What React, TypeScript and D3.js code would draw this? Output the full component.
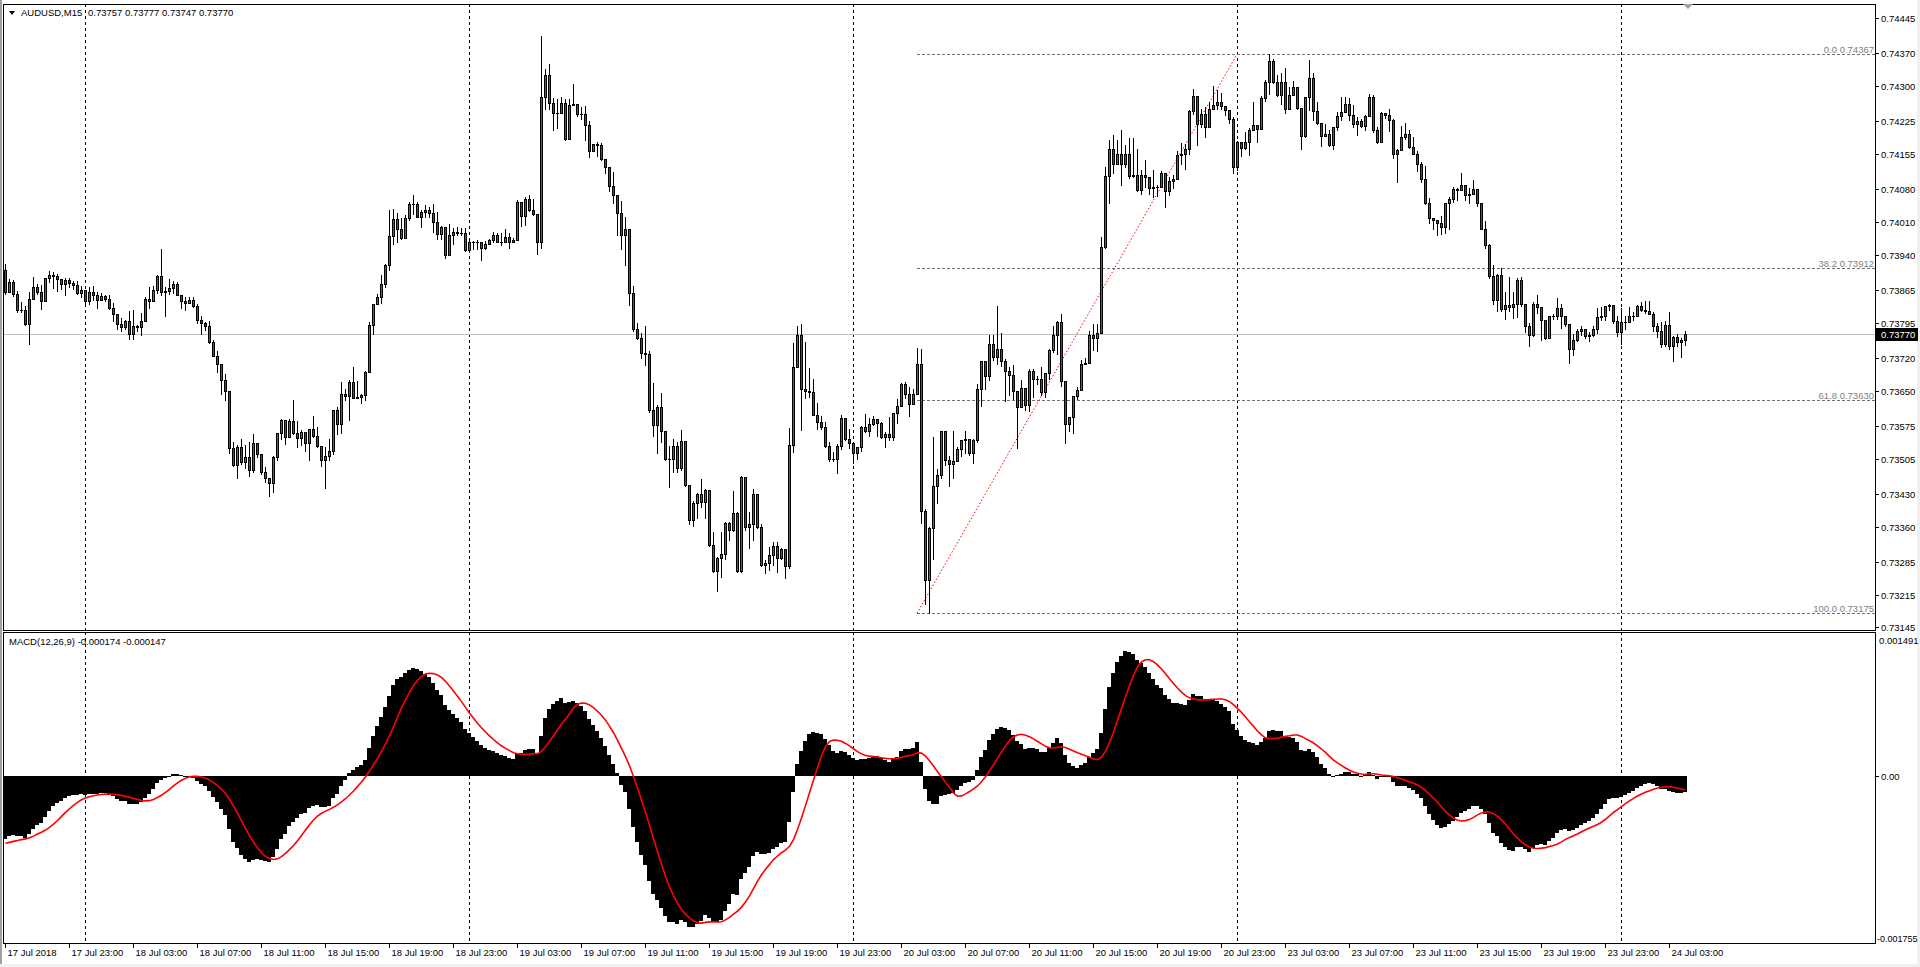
import React, { useMemo } from 'react';
import * as d3 from 'd3';

// ---------- DATA (prices in points: 73770 = 0.73770) ----------
const firstOpen = 73907;
const closePts = [
73860,73881,73856,73821,73821,73791,73846,73870,73860,73842,73890,73897,73894,73888,73878,73886,73880,73875,73858,73865,
73841,73861,73853,73844,73851,73846,73826,73814,73791,73785,73799,73771,73787,73785,73799,73846,73841,73865,73895,73860,
73863,73869,73878,73854,73841,73837,73844,73830,73801,73794,73787,73753,73723,73707,73673,73649,73527,73492,73529,73497,
73508,73481,73538,73514,73476,73463,73453,73509,73560,73588,73552,73585,73560,73549,73562,73538,73568,73554,73531,73501,
73511,73522,73609,73578,73642,73639,73668,73634,73637,73641,73689,73789,73834,73849,73878,73917,73979,74016,73995,73976,
74018,74048,74048,74021,74030,74034,74029,74009,73983,73999,73940,73981,73989,73987,73987,73950,73967,73966,73966,73955,
73962,73971,73981,73967,73966,73977,73966,73972,74052,74022,74058,74035,74027,73966,74275,74323,74264,74242,74242,74264,
74187,74259,74262,74240,74240,74217,74161,74175,74173,74143,74127,74086,74066,74029,73982,73995,73857,73782,73762,73731,
73727,73608,73577,73615,73563,73504,73503,73532,73485,73542,73449,73374,73411,73429,73412,73439,73321,73266,73293,73302,
73368,73352,73388,73265,73465,73360,73365,73429,73360,73279,73283,73299,73319,73293,73313,73276,73534,73701,73768,73654,
73650,73646,73597,73583,73573,73532,73504,73503,73532,73592,73547,73539,73517,73530,73572,73563,73578,73590,73581,73551,
73558,73551,73603,73618,73665,73643,73621,73643,73707,73393,73245,73358,73446,73471,73563,73501,73494,73499,73526,73544,
73547,73517,73544,73654,73712,73680,73749,73722,73739,73712,73692,73684,73648,73616,73655,73620,73692,73675,73675,73647,
73687,73737,73769,73796,73670,73579,73594,73638,73652,73707,73709,73769,73761,73773,73956,74108,74166,74132,74155,74134,
74154,74107,74109,74077,74110,74105,74081,74083,74083,74114,74076,74097,74102,74152,74154,74164,74246,74278,74219,74239,
74212,74251,74258,74265,74256,74248,74230,74127,74180,74167,74179,74206,74216,74207,74273,74307,74352,74308,74280,74307,
74250,74281,74297,74253,74193,74275,74317,74246,74221,74193,74197,74173,74211,74236,74244,74260,74237,74219,74224,74214,
74235,74276,74205,74179,74242,74237,74226,74155,74162,74191,74198,74169,74155,74134,74102,74049,74017,74014,74007,73999,
74049,74059,74079,74077,74089,74068,74069,74079,74049,73995,73960,73894,73844,73896,73823,73833,73828,73835,73886,73835,
73788,73769,73835,73828,73800,73763,73810,73810,73826,73808,73791,73739,73757,73778,73782,73766,73768,73782,73807,73810,
73830,73832,73798,73775,73796,73796,73808,73808,73830,73821,73820,73814,73787,73778,73749,73789,73744,73764,73754,73757,
73770
];
const highPts = [
73920,73888,73885,73863,73838,73831,73860,73892,73878,73874,73890,73904,73902,73899,73888,73890,73890,73883,73883,73873,
73846,73870,73872,73861,73858,73853,73854,73836,73814,73804,73801,73819,73821,73789,73815,73849,73870,73872,73897,73951,
73870,73887,73883,73881,73854,73850,73850,73850,73834,73809,73796,73799,73758,73735,73703,73686,73650,73540,73533,73547,
73533,73541,73558,73538,73514,73488,73461,73511,73560,73590,73588,73590,73629,73586,73565,73561,73568,73595,73573,73529,
73529,73547,73609,73615,73669,73654,73673,73701,73670,73643,73691,73796,73835,73856,73897,73920,74036,74038,74028,74018,
74024,74052,74066,74052,74036,74046,74041,74047,74030,74001,73999,74005,73997,73999,73997,73997,73974,73968,73970,73966,
73968,73974,73988,73985,73985,73995,73985,73976,74056,74052,74062,74068,74058,74021,74406,74336,74347,74273,74272,74276,
74272,74272,74303,74262,74254,74256,74224,74175,74179,74177,74142,74125,74117,74067,74054,74019,73991,73873,73794,73772,
73787,73735,73666,73619,73644,73560,73532,73546,73540,73565,73537,73445,73414,73431,73462,73441,73437,73349,73295,73349,
73370,73370,73436,73390,73467,73462,73390,73441,73429,73366,73289,73317,73328,73327,73315,73313,73571,73751,73788,73792,
73754,73699,73675,73623,73595,73583,73541,73518,73536,73598,73588,73567,73538,73530,73574,73599,73591,73595,73586,73584,
73562,73594,73603,73631,73666,73668,73658,73654,73741,73738,73398,73360,73551,73482,73564,73562,73510,73563,73530,73545,
73564,73545,73547,73663,73713,73711,73769,73769,73830,73773,73718,73700,73705,73645,73673,73654,73697,73697,73680,73700,
73687,73739,73787,73798,73814,73665,73594,73638,73658,73716,73720,73778,73791,73791,73978,74127,74185,74194,74184,74205,
74173,74189,74189,74164,74120,74141,74102,74121,74088,74118,74108,74105,74109,74161,74177,74175,74248,74292,74275,74251,
74255,74265,74300,74290,74285,74255,74249,74233,74182,74169,74201,74209,74265,74209,74278,74312,74367,74358,74322,74328,
74337,74297,74310,74297,74253,74276,74354,74328,74265,74221,74219,74205,74211,74244,74275,74276,74273,74258,74233,74228,
74237,74283,74280,74211,74244,74241,74251,74228,74166,74214,74221,74205,74191,74160,74137,74128,74061,74017,74009,74022,
74050,74063,74084,74082,74113,74089,74081,74098,74077,74047,74011,73963,73917,73899,73911,73860,73892,73860,73889,73892,
73834,73795,73839,73854,73828,73798,73810,73814,73847,73834,73808,73788,73771,73782,73787,73773,73775,73787,73825,73828,
73830,73834,73832,73808,73825,73808,73828,73818,73832,73839,73841,73842,73818,73793,73796,73798,73818,73766,73770,73761,
73777
];
const lowPts = [
73855,73860,73852,73817,73817,73789,73750,73851,73856,73824,73844,73881,73869,73863,73867,73854,73870,73867,73856,73849,
73836,73835,73844,73826,73845,73841,73824,73799,73782,73778,73782,73760,73760,73778,73769,73801,73826,73844,73858,73853,
73808,73856,73858,73853,73826,73821,73839,73829,73794,73770,73779,73752,73723,73689,73643,73629,73517,73490,73463,73494,
73485,73467,73476,73509,73472,73455,73425,73433,73501,73547,73536,73551,73558,73529,73533,73521,73502,73551,73529,73490,
73442,73501,73515,73558,73559,73629,73588,73634,73636,73623,73629,73693,73770,73836,73836,73870,73906,73963,73967,73974,
73979,74014,74027,74020,73998,74020,74021,73989,73974,73974,73933,73948,73962,73981,73981,73948,73962,73952,73952,73928,
73952,73962,73967,73966,73961,73967,73954,73970,73974,74001,74003,74033,74025,73942,73954,74251,74251,74205,74210,74242,
74185,74190,74258,74235,74230,74185,74149,74161,74151,74142,74114,74075,74049,73982,73952,73918,73833,73778,73759,73720,
73705,73605,73554,73516,73540,73502,73444,73477,73477,73481,73447,73365,73362,73378,73402,73378,73319,73264,73222,73252,
73291,73331,73350,73264,73264,73352,73315,73331,73357,73276,73262,73268,73277,73264,73291,73250,73272,73520,73701,73566,
73634,73637,73597,73569,73569,73530,73500,73499,73475,73526,73544,73528,73496,73503,73521,73562,73554,73576,73554,73549,
73530,73544,73545,73581,73617,73635,73596,73622,73647,73367,73195,73175,73291,73410,73463,73492,73446,73463,73501,73510,
73517,73512,73495,73540,73617,73653,73672,73716,73707,73702,73628,73640,73631,73527,73618,73608,73606,73636,73665,73640,
73636,73674,73732,73729,73659,73538,73564,73559,73631,73652,73706,73716,73736,73734,73773,73955,74049,74113,74134,74089,
74127,74103,74105,74076,74070,74084,74070,74063,74065,74084,74042,74066,74081,74105,74134,74123,74155,74240,74173,74212,
74191,74218,74251,74250,74250,74237,74221,74114,74120,74150,74164,74153,74214,74180,74207,74268,74283,74305,74278,74260,
74242,74253,74280,74251,74164,74191,74248,74226,74219,74172,74192,74171,74166,74206,74226,74244,74226,74212,74194,74211,
74205,74241,74201,74178,74180,74232,74204,74145,74095,74162,74187,74167,74154,74118,74095,74047,74007,73995,73981,73983,
73985,73995,74051,74057,74077,74056,74049,74070,74043,73995,73954,73891,73834,73820,73820,73803,73820,73805,73807,73830,
73775,73744,73766,73815,73757,73759,73763,73803,73803,73783,73788,73709,73725,73756,73768,73763,73756,73766,73773,73801,
73801,73821,73795,73766,73749,73782,73807,73800,73821,73820,73816,73813,73778,73764,73743,73744,73739,73713,73746,73722,
73747
];

const priceTickLabels = ['0.74445','0.74370','0.74300','0.74225','0.74155','0.74080','0.74010','0.73940','0.73865','0.73795',
  '0.73720','0.73650','0.73575','0.73505','0.73430','0.73360','0.73285','0.73215','0.73145'];
const macdTickValues = [0.001491, 0, -0.001755];
const macdTickLabels = ['0.001491', '0.00', '-0.001755'];
const timeLabelBars = [0,16,32,48,64,80,96,112,128,144,160,176,192,208,224,240,256,272,288,304,320,336,352,368,384,400,416];
const timeLabels = ['17 Jul 2018','17 Jul 23:00','18 Jul 03:00','18 Jul 07:00','18 Jul 11:00','18 Jul 15:00','18 Jul 19:00',
  '18 Jul 23:00','19 Jul 03:00','19 Jul 07:00','19 Jul 11:00','19 Jul 15:00','19 Jul 19:00','19 Jul 23:00','20 Jul 03:00',
  '20 Jul 07:00','20 Jul 11:00','20 Jul 15:00','20 Jul 19:00','20 Jul 23:00','23 Jul 03:00','23 Jul 07:00','23 Jul 11:00',
  '23 Jul 15:00','23 Jul 19:00','23 Jul 23:00','24 Jul 03:00'];
const daySeparatorBars = [20, 116, 212, 308, 404];
const fibLow = 0.73175;
const fibHigh = 0.74367;
const fibStartBar = 228;
const fibEndBar = 308;
const fibRatios = [0, 38.2, 61.8, 100];
const currentPrice = 0.7377;
// EMA / signal state just before the first visible bar
const macdSeedEma12 = 0.7391;
const macdSeedEma26 = 0.73978;
const macdSeedSignal = -0.00072;

const titleText = 'AUDUSD,M15';
const titleValues = '0.73757 0.73777 0.73747 0.73770';
const macdTitle = 'MACD(12,26,9) -0.000174 -0.000147';

// ---------- LAYOUT ----------
const W = 1920, H = 967;
const L = 3, R = 1875;
const MAIN_T = 4, MAIN_B = 630;
const MACD_T = 632, MACD_B = 943;
const FONT = "'Liberation Sans', Arial, sans-serif";
const BULL = '#2e7d4f';
const BEAR = '#c8193c';

export default function App() {
  const n = closePts.length;
  const x = d3.scaleLinear().domain([0, n - 1]).range([5, 5 + 4 * (n - 1)]);
  const y = d3.scaleLinear().domain([0.73145, 0.74445]).range([627.4, 17.7]);
  const yM = d3.scaleLinear().domain([-0.001755, 0.001491]).range([941, 636]);

  const bars = useMemo(() => closePts.map((cp, i) => {
    const op = i === 0 ? firstOpen : closePts[i - 1];
    return {
      i,
      o: op / 1e5,
      c: cp / 1e5,
      h: Math.max(highPts[i], op, cp) / 1e5,
      l: Math.min(lowPts[i], op, cp) / 1e5,
    };
  }), []);

  const macd = useMemo(() => {
    const k12 = 2 / 13, k26 = 2 / 27;
    let e12 = macdSeedEma12, e26 = macdSeedEma26;
    const main: number[] = [];
    bars.forEach(b => {
      e12 = e12 + k12 * (b.c - e12);
      e26 = e26 + k26 * (b.c - e26);
      main.push(e12 - e26);
    });
    const hist = Array(8).fill(macdSeedSignal).concat(main);
    const signal = main.map((_, i) => d3.mean(hist.slice(i, i + 9)) as number);
    return { main, signal };
  }, [bars]);

  const signalPath = d3.line<number>()
    .x((_, i) => x(i) + 0.5)
    .y(v => yM(v))(macd.signal) || '';

  const fibX0 = Math.round(x(fibStartBar));
  const fibX1 = Math.round(x(fibEndBar));

  return (
    <svg width={W} height={H} style={{ position: 'absolute', left: 0, top: 0, background: '#fff' }}
      fontFamily={FONT}>
      <rect x={0} y={0} width={W} height={H} fill="#ffffff" />
      {/* window edges */}
      <rect x={0} y={0} width={2} height={H} fill="#a0a0a0" />
      <rect x={1917} y={0} width={3} height={H} fill="#f0f0f0" />
      <rect x={0} y={964} width={W} height={3} fill="#f0f0f0" />

      {/* day separators */}
      <g stroke="#000" strokeWidth={1} strokeDasharray="3,3" shapeRendering="crispEdges">
        {daySeparatorBars.map(b => (
          <g key={b}>
            <line x1={x(b) + 0.5} x2={x(b) + 0.5} y1={MAIN_T} y2={MAIN_B} />
            <line x1={x(b) + 0.5} x2={x(b) + 0.5} y1={MACD_T} y2={MACD_B} />
          </g>
        ))}
      </g>

      {/* current price line */}
      <line x1={L} x2={R} y1={Math.round(y(currentPrice)) + 0.5} y2={Math.round(y(currentPrice)) + 0.5}
        stroke="#c0c0c0" strokeWidth={1} shapeRendering="crispEdges" />

      {/* fibonacci */}
      <g shapeRendering="crispEdges">
        {fibRatios.map(r => {
          const p = fibHigh - (r / 100) * (fibHigh - fibLow);
          const yy = Math.round(y(p)) + 0.5;
          return (
            <g key={r}>
              <line x1={fibX0} x2={R} y1={yy} y2={yy} stroke="#707070" strokeDasharray="3,2" />
              <text x={R - 1} y={yy - 2} fontSize={9.5} fill="#808080" textAnchor="end">
                {`${r.toFixed(1)} ${p.toFixed(5)}`}
              </text>
            </g>
          );
        })}
      </g>
      <line x1={fibX0} y1={y(fibLow)} x2={fibX1} y2={y(fibHigh)} stroke="#ff0000" strokeWidth={1}
        strokeDasharray="1.5,2" />

      {/* candles */}
      <g shapeRendering="crispEdges">
        {bars.map(b => {
          const cx = Math.round(x(b.i));
          const yo = Math.round(y(b.o)), yc = Math.round(y(b.c));
          const top = Math.min(yo, yc), bot = Math.max(yo, yc);
          return (
            <g key={b.i}>
              <line x1={cx + 0.5} x2={cx + 0.5} y1={Math.round(y(b.h))} y2={Math.round(y(b.l)) + 1} stroke="#000" />
              {bot - top < 1
                ? <line x1={cx - 1} x2={cx + 2} y1={top + 0.5} y2={top + 0.5} stroke="#000" />
                : <rect x={cx - 0.5} y={top + 0.5} width={2} height={bot - top}
                    fill={b.c >= b.o ? BULL : BEAR} stroke="#000" strokeWidth={1} />}
            </g>
          );
        })}
      </g>

      {/* MACD histogram */}
      <g shapeRendering="crispEdges" fill="#000">
        {macd.main.map((v, i) => {
          const cx = Math.round(x(i));
          const y0 = yM(0), y1 = yM(v);
          return <rect key={i} x={cx - 2} y={Math.min(y0, y1)} width={4} height={Math.max(1, Math.abs(y1 - y0))} />;
        })}
      </g>
      <path d={signalPath} fill="none" stroke="#ff0000" strokeWidth={1.6} />

      {/* frames */}
      <g fill="none" stroke="#000" shapeRendering="crispEdges">
        <rect x={L + 0.5} y={MAIN_T + 0.5} width={R - L} height={MAIN_B - MAIN_T} />
        <rect x={L + 0.5} y={MACD_T + 0.5} width={R - L} height={MACD_B - MACD_T} />
      </g>

      {/* price axis */}
      <g fontSize={9.5} fill="#000">
        {priceTickLabels.map(t => {
          const yy = Math.round(y(+t)) + 0.5;
          return (
            <g key={t}>
              <line x1={R} x2={R + 4} y1={yy} y2={yy} stroke="#000" shapeRendering="crispEdges" />
              <text x={R + 6} y={yy + 3.5}>{t}</text>
            </g>
          );
        })}
      </g>
      {/* current price label */}
      <rect x={R + 1} y={Math.round(y(currentPrice)) - 6} width={42} height={13} fill="#000" />
      <text x={R + 6} y={Math.round(y(currentPrice)) + 4} fontSize={9.5} fill="#fff">{currentPrice.toFixed(5)}</text>

      {/* macd axis */}
      <g fill="#000">
        {macdTickValues.map((v, k) => {
          const yy = k === 0 ? MACD_T + 8 : k === 2 ? MACD_B - 5 : Math.round(yM(v)) + 0.5;
          return (
            <g key={k}>
              {k === 1 && <line x1={R} x2={R + 4} y1={yy} y2={yy} stroke="#000" shapeRendering="crispEdges" />}
              <text x={R + (k === 1 ? 6 : k === 2 ? 2 : 4)} y={yy + 3.5} fontSize={k === 2 ? 9 : 9.5}>{macdTickLabels[k]}</text>
            </g>
          );
        })}
      </g>

      {/* time axis */}
      <g fontSize={9.5} fill="#000">
        {timeLabelBars.map((b, k) => {
          const xx = Math.round(x(b)) + 0.5;
          return (
            <g key={b}>
              <line x1={xx} x2={xx} y1={MACD_B} y2={MACD_B + 5} stroke="#000" shapeRendering="crispEdges" />
              <text x={xx + 2} y={956}>{timeLabels[k]}</text>
            </g>
          );
        })}
      </g>

      {/* titles */}
      <path d="M9,11 L15,11 L12,15 Z" fill="#000" />
      <text x={21} y={16} fontSize={9.5} fill="#000">{titleText}</text>
      <text x={88} y={16} fontSize={9.5} fill="#000">{titleValues}</text>
      <text x={9} y={645} fontSize={9.5} fill="#000">{macdTitle}</text>

      {/* chart shift marker */}
      <path d="M1683,4 L1693,4 L1688,9 Z" fill="#a0a0a0" />
    </svg>
  );
}
